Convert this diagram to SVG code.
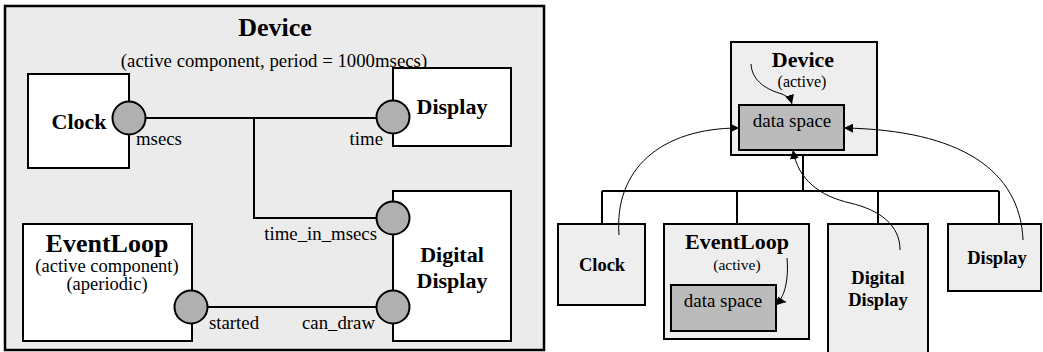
<svg xmlns="http://www.w3.org/2000/svg" width="1043" height="352" viewBox="0 0 1043 352">
<style>
text{font-family:"Liberation Serif","Times New Roman",serif;fill:#000}
.b{font-weight:bold}
.m{text-anchor:middle}
.e{text-anchor:end}
.box{fill:#fff;stroke:#000;stroke-width:2}
.port{fill:#b0b0b0;stroke:#000;stroke-width:2}
.wire{fill:none;stroke:#000;stroke-width:2}
.rbox{fill:#eeeeee;stroke:#000;stroke-width:2}
.ds{fill:#bbbbbb;stroke:#000;stroke-width:2}
.curve{fill:none;stroke:#000;stroke-width:1}
</style>
<defs>
<marker id="ah" viewBox="0 0 10 10" refX="10" refY="5" markerWidth="9" markerHeight="9" markerUnits="userSpaceOnUse" orient="auto">
<path d="M0,0 L10,5 L0,10 Z" fill="#000"/>
</marker>
</defs>

<!-- LEFT PANEL -->
<g id="device-left">
<rect x="5" y="6" width="539" height="344" fill="#ebebeb" stroke="#000" stroke-width="2.5"/>
<text x="275" y="36" class="b m" font-size="26">Device</text>
<text x="274" y="67" class="m" font-size="18.8">(active component, period = 1000msecs)</text>
</g>

<g id="wires-left">
<path class="wire" d="M129,118 H393"/>
<path class="wire" d="M254,118 V218 H393"/>
<path class="wire" d="M191,307 H393"/>
</g>

<g id="clock-left">
<rect class="box" x="28" y="74" width="101" height="94"/>
<text x="79" y="129" class="b m" font-size="22">Clock</text>
<circle class="port" cx="129" cy="118" r="16.5"/>
<text x="136" y="145" font-size="18.8">msecs</text>
</g>

<g id="display-left">
<rect class="box" x="393" y="68" width="118" height="78"/>
<text x="452" y="114" class="b m" font-size="22">Display</text>
<circle class="port" cx="393" cy="117" r="16.5"/>
<text x="383" y="145" class="e" font-size="18.8">time</text>
</g>

<g id="digital-display-left">
<rect class="box" x="393" y="191" width="118" height="150"/>
<text x="452" y="262" class="b m" font-size="22">Digital</text>
<text x="452" y="288" class="b m" font-size="22">Display</text>
<circle class="port" cx="393" cy="218" r="16.5"/>
<text x="377" y="240" class="e" font-size="18.8">time_in_msecs</text>
<circle class="port" cx="393" cy="307" r="16.5"/>
<text x="375" y="329" class="e" font-size="18.8">can_draw</text>
</g>

<g id="eventloop-left">
<rect class="box" x="23" y="224" width="169" height="117"/>
<text x="107" y="252" class="b m" font-size="26">EventLoop</text>
<text x="107" y="272" class="m" font-size="18.5">(active component)</text>
<text x="107" y="290" class="m" font-size="18.5">(aperiodic)</text>
<circle class="port" cx="191" cy="307" r="16.5"/>
<text x="209" y="329" font-size="18.8">started</text>
</g>

<!-- RIGHT PANEL -->
<g id="tree-lines">
<path class="wire" d="M803,155 V191 M602,191 H999 M602,191 V224 M737,191 V224 M878,191 V224 M999,191 V224"/>
</g>

<g id="device-right">
<rect class="rbox" x="731" y="42" width="146" height="113"/>
<text x="803" y="67" class="b m" font-size="22">Device</text>
<text x="802" y="87" class="m" font-size="16">(active)</text>
<rect class="ds" x="739" y="105" width="105" height="45"/>
<text x="792" y="127" class="m" font-size="19">data space</text>
</g>

<g id="clock-right">
<rect class="rbox" x="558" y="224" width="87" height="81"/>
<text x="602" y="271" class="b m" font-size="18.5">Clock</text>
</g>

<g id="eventloop-right">
<rect class="rbox" x="664" y="224" width="145" height="115"/>
<text x="737" y="249" class="b m" font-size="22">EventLoop</text>
<text x="737" y="270" class="m" font-size="15.5">(active)</text>
<rect class="ds" x="671" y="285" width="105" height="46"/>
<text x="723" y="307" class="m" font-size="19">data space</text>
</g>

<g id="digital-display-right">
<rect class="rbox" x="828" y="224" width="100" height="135"/>
<text x="878" y="284" class="b m" font-size="18.5">Digital</text>
<text x="878" y="306" class="b m" font-size="18.5">Display</text>
</g>

<g id="display-right">
<rect class="rbox" x="948" y="224" width="93" height="67"/>
<text x="997" y="264" class="b m" font-size="18.5">Display</text>
</g>

<g id="connectors">
<path class="curve" d="M751,64 C752,82 768,90 782,94 Q790,97 792,104" marker-end="url(#ah)"/>
<path class="curve" d="M787,258 C789,280 784,296 779,301 L786,302" marker-end="url(#ah)"/>
<path class="curve" d="M619,235 C614,170 660,128 739,128" marker-end="url(#ah)"/>
<path class="curve" d="M900,250 C900,225 880,210 850,203 C820,196 798,180 793,150" marker-end="url(#ah)"/>
<path class="curve" d="M1023,240 C1020,170 960,130 844,128" marker-end="url(#ah)"/>
</g>
</svg>
